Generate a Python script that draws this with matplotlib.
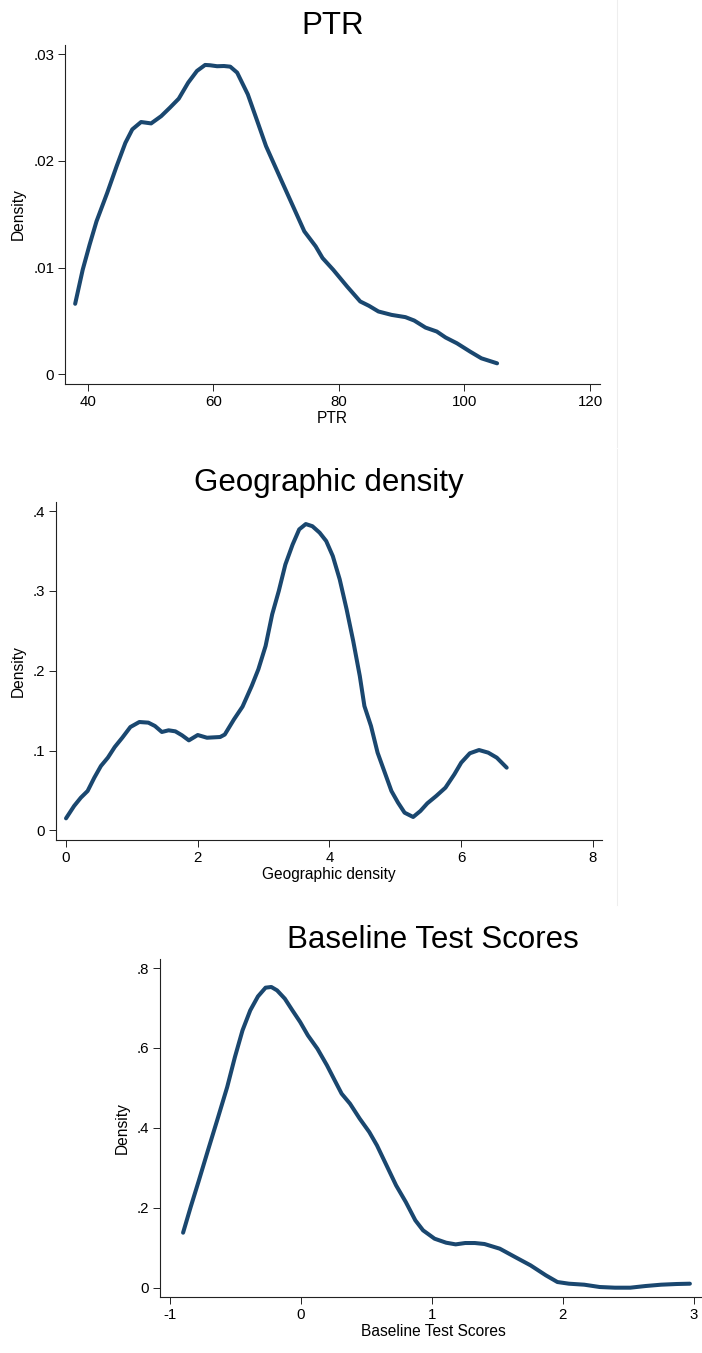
import matplotlib
matplotlib.use("Agg")
import matplotlib.pyplot as plt
from matplotlib.lines import Line2D

plt.rcParams['font.family'] = ['Liberation Sans', 'DejaVu Sans']

# ---------------- data ----------------
ptr_x = [38.0, 39.2, 40.3, 41.4, 43.1, 44.6, 46.0, 47.1, 48.5, 50.1, 51.7, 53.1, 54.5,
         56.0, 57.4, 58.7, 59.5, 60.6, 61.7, 62.7, 63.8, 65.5, 67.0, 68.4, 70.9, 72.7,
         74.5, 76.3, 77.4, 79.1, 81.3, 83.4, 84.8, 86.3, 88.4, 90.6, 92.0, 93.8, 95.6,
         97.0, 98.8, 100.9, 102.7, 105.2]
ptr_y = [0.00661, 0.0098, 0.01215, 0.01434, 0.0170, 0.0195, 0.0217, 0.02296, 0.02365,
         0.02352, 0.0242, 0.0250, 0.02584, 0.02734, 0.02844, 0.0290, 0.02897, 0.02888,
         0.0289, 0.02884, 0.02828, 0.02624, 0.02374, 0.02139, 0.0181, 0.01575, 0.0134,
         0.0120, 0.0109, 0.0098, 0.00824, 0.00683, 0.00642, 0.00589, 0.00557, 0.00536,
         0.00504, 0.00438, 0.00401, 0.00345, 0.00291, 0.00213, 0.0015, 0.00103]

geo_x = [0.0, 0.123, 0.225, 0.328, 0.43, 0.53, 0.635, 0.74, 0.854, 0.977, 1.113, 1.25,
         1.35, 1.455, 1.557, 1.66, 1.762, 1.865, 2.0, 2.14, 2.34, 2.41, 2.55, 2.68, 2.82,
         2.92, 3.03, 3.13, 3.23, 3.33, 3.44, 3.54, 3.64, 3.74, 3.85, 3.95, 4.05, 4.155,
         4.26, 4.36, 4.46, 4.53, 4.63, 4.73, 4.84, 4.94, 5.04, 5.14, 5.27, 5.38, 5.485,
         5.62, 5.76, 5.895, 6.0, 6.13, 6.27, 6.41, 6.54, 6.69]
geo_y = [0.0150, 0.0305, 0.0409, 0.0493, 0.066, 0.0806, 0.091, 0.1044, 0.116, 0.1294,
         0.1357, 0.1349, 0.1307, 0.1232, 0.1253, 0.124, 0.119, 0.1127, 0.1194, 0.116,
         0.1169, 0.120, 0.139, 0.155, 0.181, 0.2017, 0.231, 0.2706, 0.2998, 0.333, 0.358,
         0.377, 0.3837, 0.381, 0.3729, 0.3624, 0.3436, 0.3144, 0.2768, 0.2372, 0.1933,
         0.1557, 0.1307, 0.0973, 0.0722, 0.0493, 0.0347, 0.0221, 0.0167, 0.0242, 0.0338,
         0.043, 0.0534, 0.0701, 0.0848, 0.0965, 0.1006, 0.0973, 0.091, 0.0785]

bts_x = [-0.900, -0.842, -0.783, -0.710, -0.636, -0.563, -0.504, -0.446, -0.387, -0.328,
         -0.270, -0.226, -0.182, -0.123, -0.065, -0.006, 0.053, 0.126, 0.199, 0.258,
         0.311, 0.375, 0.449, 0.522, 0.581, 0.654, 0.727, 0.801, 0.874, 0.933, 1.021,
         1.109, 1.182, 1.255, 1.328, 1.402, 1.519, 1.636, 1.754, 1.871, 1.959, 2.047,
         2.164, 2.282, 2.399, 2.516, 2.633, 2.751, 2.868, 2.971]
bts_y = [0.1376, 0.2019, 0.2644, 0.3437, 0.4229, 0.5022, 0.5773, 0.644, 0.694, 0.729,
         0.7508, 0.7525, 0.744, 0.7233, 0.694, 0.665, 0.6315, 0.598, 0.5564, 0.5189,
         0.4855, 0.4605, 0.423, 0.3896, 0.356, 0.306, 0.256, 0.2144, 0.1685, 0.1435,
         0.1226, 0.1126, 0.1084, 0.1118, 0.1118, 0.1093, 0.0976, 0.0767, 0.0559, 0.0309,
         0.0142, 0.010, 0.0075, 0.0017, 0.0, 0.0, 0.0042, 0.0075, 0.0092, 0.010]

titles = ["PTR", "Geographic density", "Baseline Test Scores"]
xlabels = ["PTR", "Geographic density", "Baseline Test Scores"]
ylabel = "Density"

ptr_xticks = [40, 60, 80, 100, 120]
ptr_yticks = [0, 0.01, 0.02, 0.03]
ptr_yticklabels = ["0", ".01", ".02", ".03"]
geo_xticks = [0, 2, 4, 6, 8]
geo_yticks = [0, 0.1, 0.2, 0.3, 0.4]
geo_yticklabels = ["0", ".1", ".2", ".3", ".4"]
bts_xticks = [-1, 0, 1, 2, 3]
bts_yticks = [0, 0.2, 0.4, 0.6, 0.8]
bts_yticklabels = ["0", ".2", ".4", ".6", ".8"]

# ---------------- layout ----------------
W, H = 702, 1353
LINE_COLOR = "#1a476f"
fig = plt.figure(figsize=(W / 100, H / 100), dpi=100)
fig.patch.set_facecolor("white")


def px_axes(x0, y0, x1, y1):
    return fig.add_axes([x0 / W, 1 - y1 / H, (x1 - x0) / W, (y1 - y0) / H])


panels = [
    dict(box=(65.3, 45.0, 600.0, 383.7), xlim=(36.43, 121.59), ylim=(-0.00088, 0.03087),
         x=ptr_x, y=ptr_y, xt=ptr_xticks, yt=ptr_yticks, ytl=ptr_yticklabels,
         ylab_x=18.6),
    dict(box=(56.0, 501.7, 602.0, 840.3), xlim=(-0.152, 8.137), ylim=(-0.0125, 0.4117),
         x=geo_x, y=geo_y, xt=geo_xticks, yt=geo_yticks, ytl=geo_yticklabels,
         ylab_x=18.6),
    dict(box=(160.3, 958.7, 706.0, 1297.0), xlim=(-1.074, 3.094), ylim=(-0.0233, 0.8233),
         x=bts_x, y=bts_y, xt=bts_xticks, yt=bts_yticks, ytl=bts_yticklabels,
         ylab_x=122.0),
]

for i, p in enumerate(panels):
    x0, y0, x1, y1 = p["box"]
    ax = px_axes(x0, y0, x1, y1)
    ax.plot(p["x"], p["y"], color=LINE_COLOR, lw=2.9, solid_capstyle="round",
            solid_joinstyle="round")
    ax.set_xlim(*p["xlim"])
    ax.set_ylim(*p["ylim"])
    for s in ["top", "right"]:
        ax.spines[s].set_visible(False)
    for s in ["left", "bottom"]:
        ax.spines[s].set_linewidth(0.8)
        ax.spines[s].set_color("#222222")
    ax.set_xticks(p["xt"])
    ax.set_xticklabels([str(v) for v in p["xt"]])
    ax.set_yticks(p["yt"])
    ax.set_yticklabels(p["ytl"])
    ax.tick_params(direction="out", length=5, width=0.7, color="#222222",
                   labelsize=10.8, pad=3, labelcolor="black")
    ax.set_title(titles[i], fontsize=22.5, pad=8)
    ax.set_xlabel(xlabels[i], fontsize=11.2)
    ax.xaxis.set_label_coords(0.5, -0.115)
    ax.xaxis.label.set_va("baseline")
    ax.set_ylabel(ylabel, fontsize=11.2)
    ax.yaxis.set_label_coords((p["ylab_x"] - x0) / (x1 - x0), 0.5)
    ax.yaxis.label.set_va("center")
    ax.set_facecolor("white")

# faint separator line from the composited source image
fig.add_artist(Line2D([616.7 / W, 616.7 / W], [1 - 0 / H, 1 - 447 / H],
                      transform=fig.transFigure, color="#eeeeee", lw=0.8))
fig.add_artist(Line2D([616.7 / W, 616.7 / W], [1 - 449 / H, 1 - 905 / H],
                      transform=fig.transFigure, color="#eeeeee", lw=0.8))

fig.savefig("out.png", dpi=100, facecolor="white")
